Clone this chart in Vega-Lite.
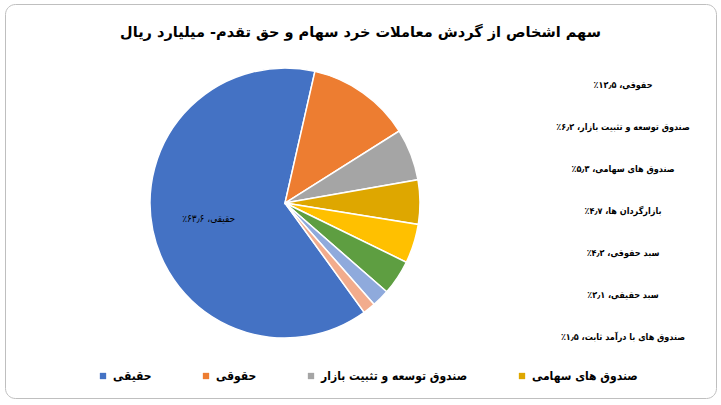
{
  "$schema": "https://vega.github.io/schema/vega-lite/v6.json",
  "description": "سهم اشخاص از گردش معاملات خرد سهام و حق تقدم",
  "width": 711,
  "height": 394,
  "autosize": {"type": "none"},
  "padding": {"left": 5, "top": 4, "right": 5, "bottom": 7},
  "background": "white",
  "config": {
    "view": {"stroke": "#BFBFBF", "strokeWidth": 1, "cornerRadius": 10},
    "font": "DejaVu Sans"
  },
  "title": {
    "text": "سهم اشخاص از گردش معاملات خرد سهام و حق تقدم- میلیارد ریال",
    "font": "DejaVu Sans",
    "fontSize": 14.5,
    "fontWeight": "bold",
    "color": "#000000",
    "anchor": "middle",
    "frame": "group",
    "offset": 0,
    "dy": 36
  },
  "data": {
    "values": [
      {"category": "حقیقی", "value": 63.6, "label": "‏حقیقی، ۶۳٫۶٪‏", "rank": 8},
      {"category": "حقوقی", "value": 12.5, "label": "‏حقوقی، ۱۲٫۵٪‏", "rank": 1},
      {"category": "صندوق توسعه و تثبیت بازار", "value": 6.2, "label": "‏صندوق توسعه و تثبیت بازار، ۶٫۲٪‏", "rank": 2},
      {"category": "صندوق های سهامی", "value": 5.3, "label": "‏صندوق های سهامی، ۵٫۳٪‏", "rank": 3},
      {"category": "بازارگردان ها", "value": 4.7, "label": "‏بازارگردان ها، ۴٫۷٪‏", "rank": 4},
      {"category": "سبد حقوقی", "value": 4.2, "label": "‏سبد حقوقی، ۴٫۲٪‏", "rank": 5},
      {"category": "سبد حقیقی", "value": 2.1, "label": "‏سبد حقیقی، ۲٫۱٪‏", "rank": 6},
      {"category": "صندوق های با درآمد ثابت", "value": 1.5, "label": "‏صندوق های با درآمد ثابت، ۱٫۵٪‏", "rank": 7}
    ]
  },
  "layer": [
    {
      "mark": {"type": "arc", "outerRadius": 135, "stroke": "white", "strokeWidth": 1.5},
      "encoding": {
        "x": {"datum": 0, "type": "quantitative", "scale": {"domain": [-2.0741, 3.1926], "nice": false, "zero": false}, "axis": null},
        "y": {"datum": 0, "type": "quantitative", "scale": {"domain": [-1.444, 1.474], "nice": false, "zero": false}, "axis": null},
        "theta": {"field": "value", "type": "quantitative", "stack": true, "scale": {"range": [0.2234, 6.5066]}},
        "order": {"field": "rank", "type": "quantitative"},
        "color": {
          "field": "category",
          "type": "nominal",
          "scale": {
            "domain": ["حقیقی", "حقوقی", "صندوق توسعه و تثبیت بازار", "صندوق های سهامی", "بازارگردان ها", "سبد حقوقی", "سبد حقیقی", "صندوق های با درآمد ثابت"],
            "range": ["#4472C4", "#ED7D31", "#A5A5A5", "#DEA700", "#FFC000", "#5E9E41", "#8FAADC", "#F2AC8D"]
          },
          "legend": {
            "title": null,
            "values": ["حقیقی", "حقوقی", "صندوق توسعه و تثبیت بازار", "صندوق های سهامی"],
            "orient": "none",
            "direction": "horizontal",
            "legendX": 92,
            "legendY": 366,
            "gridAlign": "none",
            "symbolType": "square",
            "symbolSize": 40,
            "symbolStrokeWidth": 0,
            "labelFont": "DejaVu Sans Condensed, DejaVu Sans",
            "labelFontSize": 12,
            "labelFontWeight": "bold",
            "labelColor": "#000000",
            "labelOffset": 4,
            "labelLimit": 300,
            "columnPadding": 48
          }
        }
      }
    },
    {
      "mark": {"type": "text", "radius": 78, "font": "DejaVu Sans Condensed, DejaVu Sans", "fontSize": 10, "color": "#000000"},
      "encoding": {
        "x": {"datum": 0, "type": "quantitative"},
        "y": {"datum": 0, "type": "quantitative", "scale": {"domain": [-1.444, 1.474], "nice": false, "zero": false}, "axis": null},
        "theta": {"field": "value", "type": "quantitative", "stack": true},
        "order": {"field": "rank", "type": "quantitative"},
        "text": {"condition": {"test": "datum.rank === 8", "field": "label"}, "value": ""}
      }
    },
    {
      "transform": [{"filter": "datum.rank < 8"}],
      "mark": {"type": "text", "font": "DejaVu Sans Condensed, DejaVu Sans", "fontSize": 9, "fontWeight": "bold", "color": "#000000", "align": "center", "baseline": "middle"},
      "encoding": {
        "x": {"datum": 2.504, "type": "quantitative"},
        "y": {
          "field": "category",
          "type": "nominal",
          "sort": {"field": "rank"},
          "scale": {"type": "point", "range": [81, 333], "padding": 0},
          "axis": null
        },
        "text": {"field": "label"}
      }
    }
  ],
  "resolve": {"scale": {"y": "independent"}}
}
